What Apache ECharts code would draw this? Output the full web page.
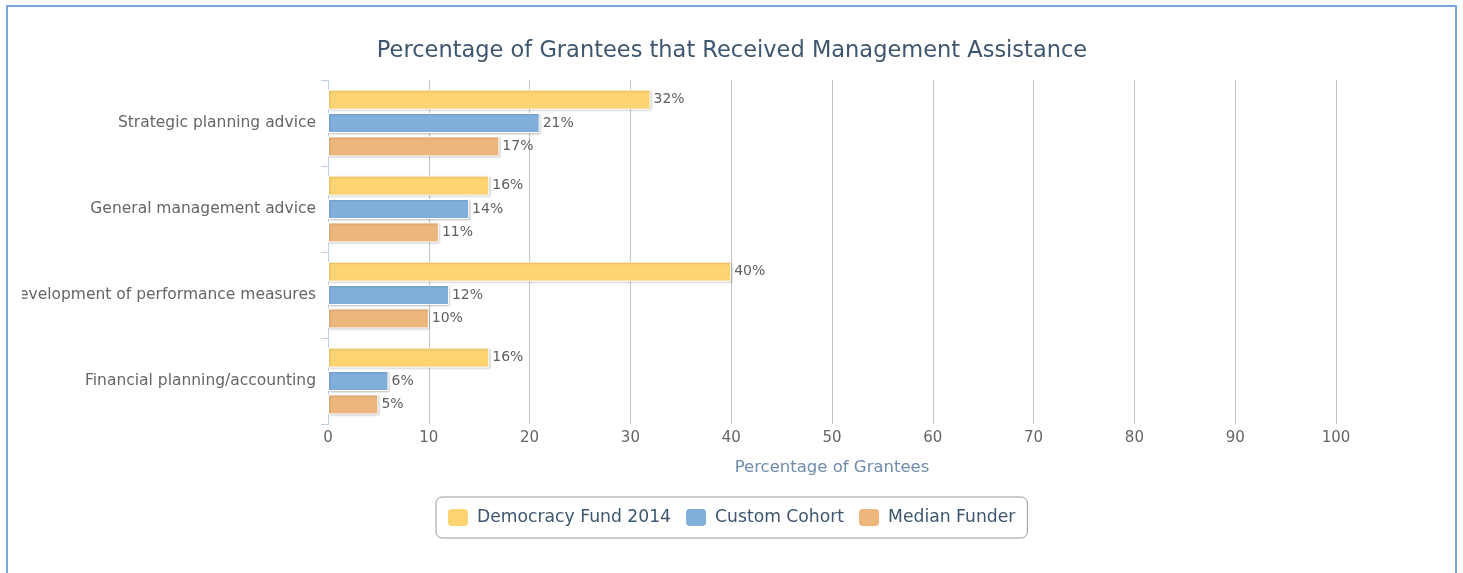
<!DOCTYPE html>
<html>
<head>
<meta charset="utf-8">
<script src="https://cdn.jsdelivr.net/npm/echarts@6/dist/echarts.min.js"></script>
<style>
  html, body { margin: 0; padding: 0; background: #fff; overflow: hidden; }
  #frame {
    position: absolute; left: 6px; top: 5px; width: 1451px; height: 600px;
    border: 2px solid #7ba6d9; box-sizing: border-box;
  }
  #chart { position: absolute; left: 22px; top: 0; width: 1433px; height: 573px; }
</style>
</head>
<body>
<div id="frame"></div>
<div id="chart"></div>
<script>
// Management assistance categories (top to bottom)
const categories = [
  'Strategic planning advice',
  'General management advice',
  'Development of performance measures',
  'Financial planning/accounting'
];
const seriesNames = ['Democracy Fund 2014', 'Custom Cohort', 'Median Funder'];
const democracyFund = [32, 16, 40, 16];
const customCohort = [21, 14, 12, 6];
const medianFunder = [17, 11, 10, 5];
const xTicks = [0, 10, 20, 30, 40, 50, 60, 70, 80, 90, 100];
const colors = ['#fdd471', '#81afdb', '#ecb67c'];

const chart = echarts.init(document.getElementById('chart'), null, { renderer: 'canvas' });

const barStyle = (c) => ({
  color: c,
  borderColor: '#ffffff',
  borderWidth: 1,
  shadowColor: 'rgba(0,0,0,0.18)',
  shadowBlur: 2,
  shadowOffsetX: 1,
  shadowOffsetY: 1
});

const makeSeries = (name, data, color) => ({
  name: name,
  type: 'bar',
  data: data,
  barWidth: 20,
  barGap: '17%',
  itemStyle: barStyle(color),
  label: {
    show: true,
    position: 'right',
    distance: 3,
    formatter: '{c}%',
    color: '#606060',
    fontSize: 14,
    fontFamily: 'DejaVu Sans'
  },
  emphasis: { disabled: true }
});

chart.setOption({
  animation: false,
  textStyle: { fontFamily: 'DejaVu Sans' },
  title: {
    text: 'Percentage of Grantees that Received Management Assistance',
    left: 705,
    textAlign: 'center',
    top: 35,
    textStyle: { color: '#3e576f', fontSize: 22.5, fontWeight: 'normal', fontFamily: 'DejaVu Sans' }
  },
  legend: {
    data: seriesNames,
    left: 414,
    top: 497,
    orient: 'horizontal',
    icon: 'roundRect',
    itemWidth: 22,
    itemHeight: 19,
    itemGap: 13,
    padding: [10, 12, 10, 10],
    borderColor: '#999999',
    borderWidth: 1,
    borderRadius: 6,
    textStyle: { color: '#3e576f', fontSize: 17.2, fontFamily: 'DejaVu Sans', padding: [0, 0, 0, 3] }
  },
  grid: { left: 306, right: 119, top: 80, bottom: 149, containLabel: false, outerBoundsMode: 'none' },
  xAxis: {
    type: 'value',
    min: xTicks[0],
    max: xTicks[xTicks.length - 1],
    interval: 10,
    name: 'Percentage of Grantees',
    nameLocation: 'middle',
    nameGap: 35,
    nameTextStyle: { color: '#6f8bab', fontSize: 16.5, fontFamily: 'DejaVu Sans' },
    axisLine: { show: false },
    axisTick: { show: false },
    axisLabel: { color: '#666666', fontSize: 15, margin: 7, fontFamily: 'DejaVu Sans' },
    splitLine: { show: true, lineStyle: { color: '#c4c4c4', width: 1 } }
  },
  yAxis: {
    type: 'category',
    data: categories,
    inverse: true,
    axisLine: { show: true, lineStyle: { color: '#c0d0e0', width: 1 } },
    axisTick: { show: true, length: 7, lineStyle: { color: '#c0d0e0' } },
    axisLabel: {
      color: '#666666', fontSize: 15.5, margin: 12, fontFamily: 'DejaVu Sans',
      verticalAlign: 'middle', lineHeight: 20, padding: [5, 0, 0, 0]
    },
    splitLine: { show: false }
  },
  series: [
    makeSeries(seriesNames[0], democracyFund, colors[0]),
    makeSeries(seriesNames[1], customCohort, colors[1]),
    makeSeries(seriesNames[2], medianFunder, colors[2])
  ]
});
</script>
</body>
</html>
